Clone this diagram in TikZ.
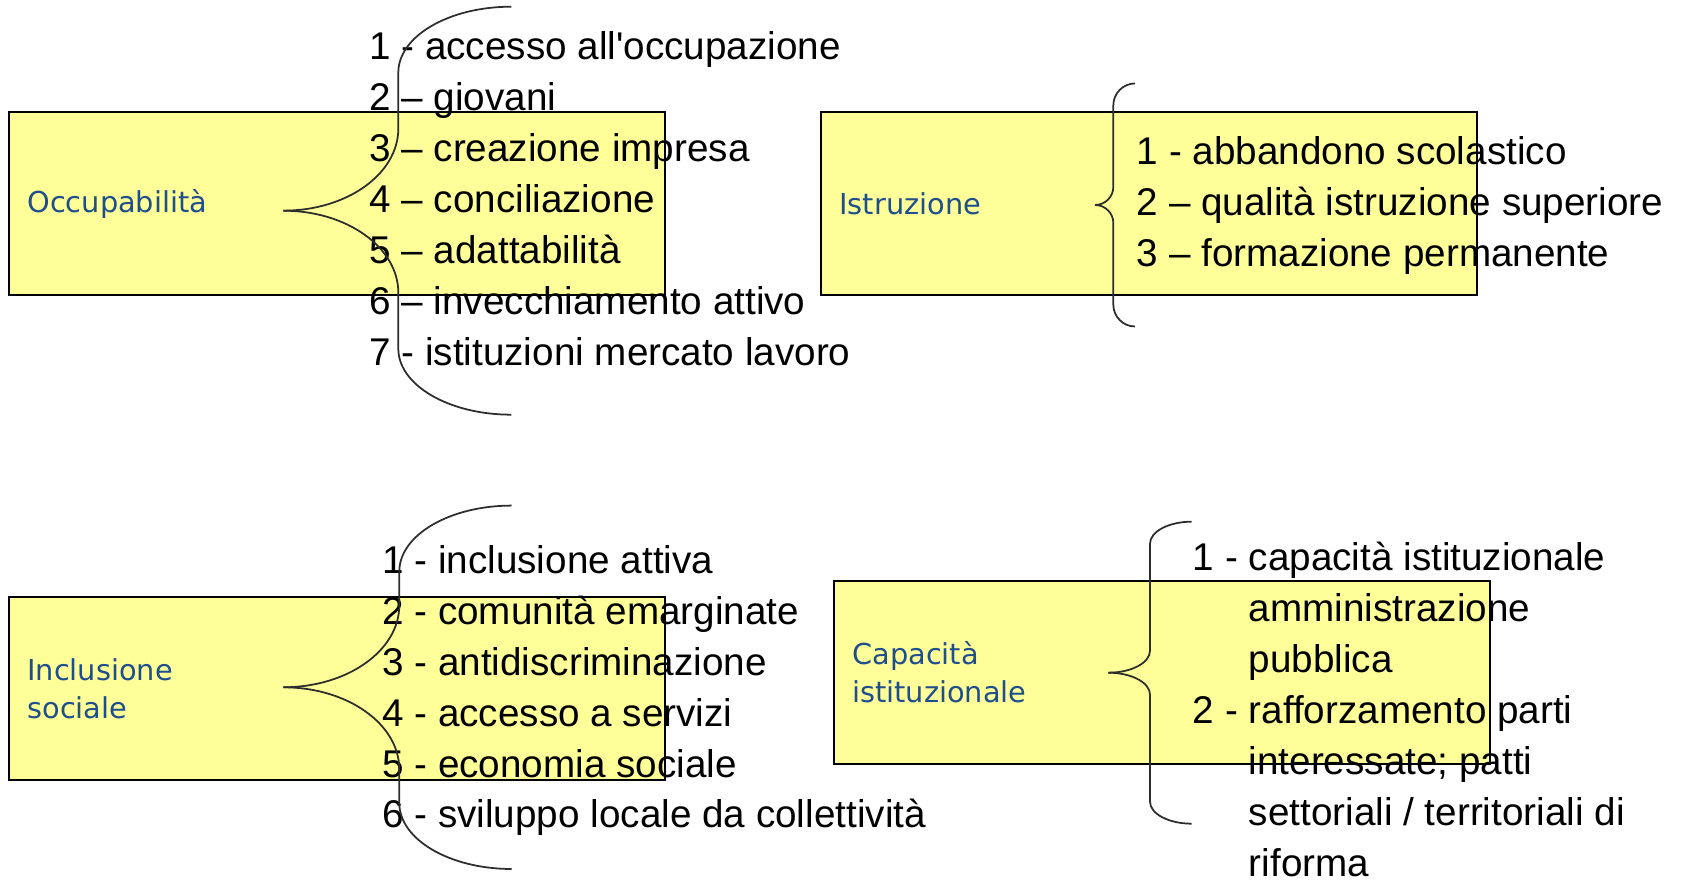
\documentclass[tikz,border=0pt]{standalone}
\usepackage{fontspec}
\newfontfamily\itemfont{Liberation Sans}
\newfontfamily\boxfont{DejaVu Sans}
\usepackage{xcolor}
\usetikzlibrary{positioning}

\definecolor{boxyellow}{RGB}{255,255,153}
\definecolor{labelblue}{RGB}{31,78,140}
\definecolor{bracegray}{RGB}{45,45,45}

\tikzset{
  catbox/.style={draw=black, line width=1.3pt, fill=boxyellow,
    minimum width=13.12cm, minimum height=3.66cm, text width=12.38cm,
    inner xsep=0.37cm, align=left, text=labelblue,
    font=\boxfont\fontsize{16.4pt}{21.5pt}\selectfont},
  % base anchor of a list = baseline of its last line
  itemlist/.style={anchor=base west, inner sep=0pt, align=left,
    font=\itemfont\fontsize{22pt}{29pt}\selectfont},
  curly/.style={draw=bracegray, line width=1pt}
}

\begin{document}
\begin{tikzpicture}[x=0.02cm, y=0.02cm]
    \useasboundingbox (0,0) rectangle (1682,884);

    % Category boxes
    \node[catbox] (occ) at (336.8,680.4) {Occupabilità};
    \node[catbox] (istr) at (1148.9,680.2) {Istruzione};
    \node[catbox] (incl) at (336.8,195.5) {Inclusione\\sociale};
    \node[catbox] (cap) at (1161.7,211.5) {Capacità\\istituzionale};

    % Lists of objectives
    \node[itemlist] (occlist) at (369,518.5) {1 - accesso all'occupazione\\2 – giovani\\3 – creazione impresa\\4 – conciliazione\\5 – adattabilità\\6 – invecchiamento attivo\\7 - istituzioni mercato lavoro};
    \node[itemlist] (istrlist) at (1136.5,617.3) {1 - abbandono scolastico\\2 – qualità istruzione superiore\\3 – formazione permanente};
    \node[itemlist] (incllist) at (382,56) {1 - inclusione attiva\\2 - comunità emarginate\\3 - antidiscriminazione\\4 - accesso a servizi\\5 - economia sociale\\6 - sviluppo locale da collettività};
    \node[itemlist] (caplist) at (1192.6,7.3) {1 - capacità istituzionale\\\phantom{1 -} amministrazione\\\phantom{1 -} pubblica\\2 - rafforzamento parti\\\phantom{2 -} interessate; patti\\\phantom{2 -} settoriali / territoriali di\\\phantom{2 -} riforma};

    % Braces (tip points at the box label)
    \coordinate (occtip) at (283.3,673.3);
    \draw[curly] (occtip) arc[start angle=-90, end angle=0, x radius=115, y radius=82] -- ++(0,56) arc[start angle=180, end angle=90, x radius=113, y radius=66];
    \draw[curly] (occtip) arc[start angle=90, end angle=0, x radius=115, y radius=82] -- ++(0,-56) arc[start angle=180, end angle=270, x radius=113, y radius=66];

    \coordinate (istrtip) at (1095,679);
    \draw[curly] (istrtip) arc[start angle=-90, end angle=0, x radius=18.3, y radius=18] -- ++(0,81.5) arc[start angle=180, end angle=90, x radius=21.7, y radius=22];
    \draw[curly] (istrtip) arc[start angle=90, end angle=0, x radius=18.3, y radius=18] -- ++(0,-81.5) arc[start angle=180, end angle=270, x radius=21.7, y radius=22];

    \coordinate (incltip) at (283.3,196.7);
    \draw[curly] (incltip) arc[start angle=-90, end angle=0, x radius=116, y radius=82] -- ++(0,33.7) arc[start angle=180, end angle=90, x radius=112.4, y radius=66];
    \draw[curly] (incltip) arc[start angle=90, end angle=0, x radius=116, y radius=82] -- ++(0,-33.7) arc[start angle=180, end angle=270, x radius=112.4, y radius=66];

    \coordinate (captip) at (1108.3,211.3);
    \draw[curly] (captip) arc[start angle=-90, end angle=0, x radius=41.7, y radius=22] -- ++(0,107) arc[start angle=180, end angle=90, x radius=41.7, y radius=22];
    \draw[curly] (captip) arc[start angle=90, end angle=0, x radius=41.7, y radius=22] -- ++(0,-107) arc[start angle=180, end angle=270, x radius=41.7, y radius=22];
\end{tikzpicture}
\end{document}
